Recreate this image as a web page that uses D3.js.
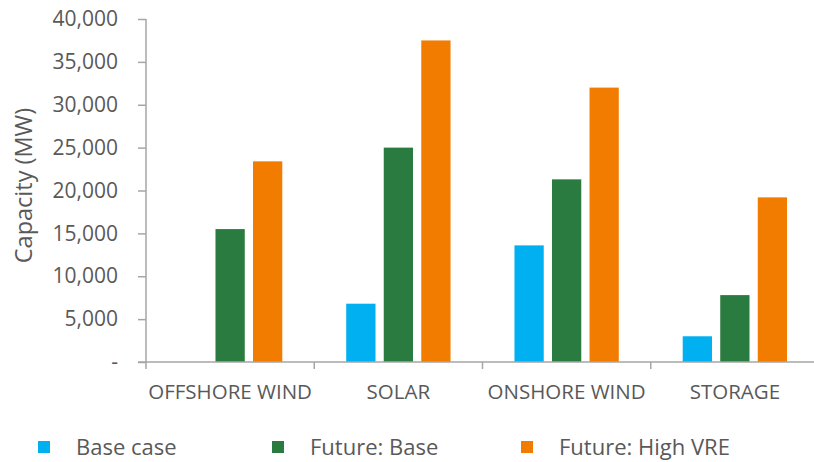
<!DOCTYPE html>
<html>
<head>
<meta charset="utf-8">
<script src="https://cdn.jsdelivr.net/npm/d3@7"></script>
<style>
  html, body { margin: 0; padding: 0; background: #fff; }
  svg { display: block; font-family: "Open Sans", sans-serif; }
</style>
</head>
<body>
<svg id="chart" width="814" height="462"></svg>
<script>
// Installed capacity by technology and scenario (MW)
const categories = ["OFFSHORE WIND", "SOLAR", "ONSHORE WIND", "STORAGE"];
const seriesNames = ["Base case", "Future: Base", "Future: High VRE"];
const baseCase = [0, 6800, 13600, 3000];
const futureBase = [15500, 25000, 21300, 7800];
const futureHighVRE = [23400, 37500, 32000, 19200];
const seriesColors = ["#00B0F0", "#2A7B3F", "#F27C00"];
const yTicks = [0, 5000, 10000, 15000, 20000, 25000, 30000, 35000, 40000];
const yTitle = "Capacity (MW)";

const seriesValues = [baseCase, futureBase, futureHighVRE];
const rows = categories.map((c, i) => ({
  category: c,
  values: seriesNames.map((s, j) => ({ series: s, value: seriesValues[j][i], color: seriesColors[j] }))
}));

const svg = d3.select("#chart");
const axisColor = "#A6A6A6";
const textColor = "#595959";

const plot = { left: 146, right: 819, top: 19, bottom: 362 };

const x0 = d3.scaleBand().domain(categories).range([plot.left, plot.right]).padding(0);
const bw = x0.bandwidth();
const x1 = d3.scaleBand().domain(seriesNames)
  .range([bw * 0.19, bw * 0.81]).paddingInner(0.22).paddingOuter(0);
const y = d3.scaleLinear().domain([0, 40000]).range([plot.bottom, plot.top]);

// Bars
const groups = svg.append("g").selectAll("g").data(rows).join("g")
  .attr("transform", d => `translate(${x0(d.category)},0)`);
groups.selectAll("rect").data(d => d.values.filter(v => v.value > 0)).join("rect")
  .attr("x", d => x1(d.series))
  .attr("width", x1.bandwidth())
  .attr("y", d => y(d.value))
  .attr("height", d => y(0) - y(d.value))
  .attr("fill", d => d.color);

// Y axis
const fmt = d3.format(",");
const yAxis = svg.append("g").attr("transform", `translate(${plot.left},0)`)
  .call(d3.axisLeft(y).tickValues(yTicks).tickSize(8).tickPadding(20)
    .tickFormat(d => d === 0 ? "-" : fmt(d)));
yAxis.select(".domain").attr("stroke", axisColor).attr("stroke-width", 1.5)
  .attr("d", `M0,${plot.top}V${plot.bottom}`);
yAxis.selectAll(".tick line").attr("stroke", axisColor).attr("stroke-width", 1.5);
yAxis.selectAll(".tick text").attr("fill", textColor).style("font-size", "21px")
  .style("font-family", "'Open Sans', sans-serif");

// X axis with ticks at category boundaries
const xAxis = svg.append("g").attr("transform", `translate(0,${plot.bottom})`);
xAxis.append("line").attr("x1", plot.left - 8).attr("x2", plot.right)
  .attr("stroke", axisColor).attr("stroke-width", 1.5);
const boundaries = categories.map(c => x0(c)).concat([x0(categories[categories.length - 1]) + bw]);
xAxis.selectAll("line.tick").data(boundaries).join("line").attr("class", "tick")
  .attr("x1", d => d).attr("x2", d => d).attr("y1", 0).attr("y2", 7)
  .attr("stroke", axisColor).attr("stroke-width", 1.5);
xAxis.selectAll("text").data(categories).join("text")
  .attr("x", d => x0(d) + bw / 2)
  .attr("y", 37)
  .attr("text-anchor", "middle")
  .attr("fill", textColor)
  .style("font-size", "20.5px")
  .text(d => d);

// Y axis title
svg.append("text")
  .attr("transform", `translate(32,${(plot.top + plot.bottom) / 2 - 5}) rotate(-90)`)
  .attr("text-anchor", "middle")
  .attr("fill", textColor)
  .style("font-size", "23.5px")
  .text(yTitle);

// Legend
const legendX = [38, 272, 521];
const legend = svg.append("g").selectAll("g").data(seriesNames).join("g")
  .attr("transform", (d, i) => `translate(${legendX[i]},447)`);
legend.append("rect").attr("x", 0).attr("y", -6).attr("width", 12).attr("height", 12)
  .attr("fill", (d, i) => seriesColors[i]);
legend.append("text").attr("x", 38).attr("y", 0).attr("dy", "0.35em")
  .attr("fill", textColor).style("font-size", "22px").text(d => d);
</script>
</body>
</html>
